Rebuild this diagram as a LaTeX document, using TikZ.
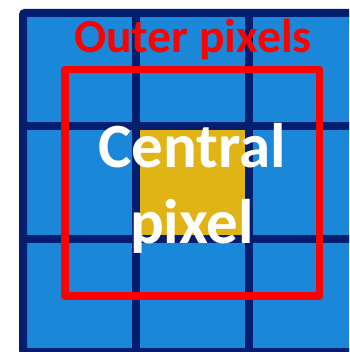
\documentclass[tikz,border=0pt]{standalone}
\usepackage{fontspec}
\setmainfont{Carlito}
\definecolor{zellblau}{RGB}{27,135,216}
\definecolor{gitter}{RGB}{3,30,110}
\definecolor{mitte}{RGB}{225,180,22}
\definecolor{rahmen}{RGB}{255,0,0}

\begin{document}
\begin{tikzpicture}[x=1pt, y=-1pt,
    gitterlinie/.style={draw=gitter, line width=7.5pt},
    beschriftung/.style={font=\bfseries, inner sep=0pt},
    scale=1]
    % Bildbereich
    \useasboundingbox (0,0) rectangle (349,352);
    \clip (0,0) rectangle (349,352);
    % Zellen
    \fill[zellblau] (23,13) rectangle (362,352);
    \fill[mitte] (136,126) rectangle (249,239);
    % Gitter zeichnen
    \foreach \x in {136,249} \draw[gitterlinie] (\x,13) -- (\x,352);
    \foreach \y in {126,239} \draw[gitterlinie] (23,\y) -- (362,\y);
    \draw[gitterlinie, line width=8pt, rounded corners=2pt] (23,13) rectangle (362,352);
    % Aeusserer Rahmen
    \draw[rahmen, line width=7.5pt, line join=round] (65,69.5) rectangle (319.5,296);
    % Beschriftung
    \node[beschriftung, text=rahmen, anchor=base, font=\bfseries\fontsize{47.5}{54}\selectfont]
        (aussen) at (193,53) {Outer pixels};
    \node[beschriftung, text=white, align=center, anchor=center,
        font=\bfseries\fontsize{63}{76}\selectfont]
        (zentral) at (192,188.5) {Central\\pixel};
\end{tikzpicture}
\end{document}
